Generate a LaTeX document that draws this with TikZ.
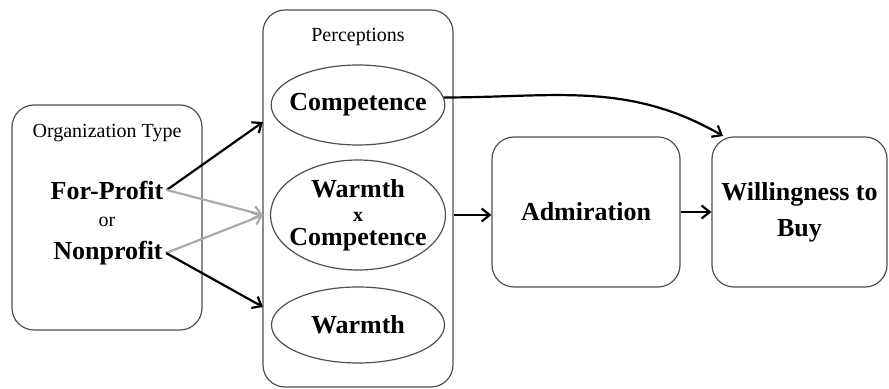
\documentclass[tikz,border=0pt]{standalone}
\usepackage{fontspec}
\setmainfont{Liberation Serif}
\usetikzlibrary{positioning,shapes,calc,arrows.meta}
\definecolor{boxgray}{RGB}{80,80,80}
\definecolor{arrgray}{RGB}{170,170,170}

\begin{document}
\begin{tikzpicture}[x=0.5pt,y=-0.5pt,
    every node/.style={align=center},
    box/.style={draw=boxgray,rounded corners=11pt,line width=0.6pt},
    oval/.style={draw=boxgray,ellipse,line width=0.6pt,inner xsep=-3.6pt,inner ysep=1.5pt},
    big/.style={font=\fontsize{13}{14}\selectfont\bfseries},
    small/.style={font=\fontsize{10}{11}\selectfont},
    link/.style={-{Straight Barb[length=4pt,width=6.5pt]},line width=1.1pt,black},
    greylink/.style={link,arrgray}
  ]
  \useasboundingbox (0,0) rectangle (889,389);

  % the organization type
  \node[box,minimum width=95pt,minimum height=112.5pt] (org) at (107,217.5) {};
  \node[small] (orgtitle) at (107,133) {Organization Type};
  \node[big,inner sep=1.5pt] (fp) at (107,190) {For-Profit};
  \node[small] (or) at (107,222) {or};
  \node[big,inner sep=1.5pt] (np) at (108,253) {Nonprofit};

  % the perceptions
  \node[box,minimum width=95pt,minimum height=188.5pt] (perc) at (358,198.5) {};
  \node[small] (perctitle) at (358,37) {Perceptions};
  \node[oval,big,minimum width=86.5pt,minimum height=40pt] (comp) at (358,105) {Competence};
  \node[oval,big,minimum width=87.5pt,minimum height=55pt] (wxc) at (358,215)
    {Warmth\\[-2pt]{\fontsize{10}{11}\selectfont x}\\[-2pt]Competence};
  \node[oval,big,minimum width=86.5pt,minimum height=38pt] (warm) at (358,325) {Warmth};

  % the outcomes
  \node[box,big,minimum width=94pt,minimum height=75pt] (adm) at (586,212) {Admiration};
  \node[box,big,inner xsep=2pt,minimum width=87.5pt,minimum height=75pt] (wtb) at (799.5,212)
    {Willingness to\\[4pt]Buy};

  % the arrows
  \coordinate (pin1) at (263,122);
  \coordinate (pin2) at (263,215);
  \coordinate (pin3) at (263,307);
  \coordinate (win) at (723,136);
  \draw[link] (fp.east) -- (pin1);
  \draw[greylink] (fp.east) -- (pin2);
  \draw[greylink] (np.east) -- (pin2);
  \draw[link] (np.east) -- (pin3);
  \draw[link] (perc.east |- pin2) -- (adm.west |- pin2);
  \draw[link] (adm.east) -- (wtb.west);
  \draw[link] (comp.5) to[out=0,in=150] (win);

\end{tikzpicture}
\end{document}
